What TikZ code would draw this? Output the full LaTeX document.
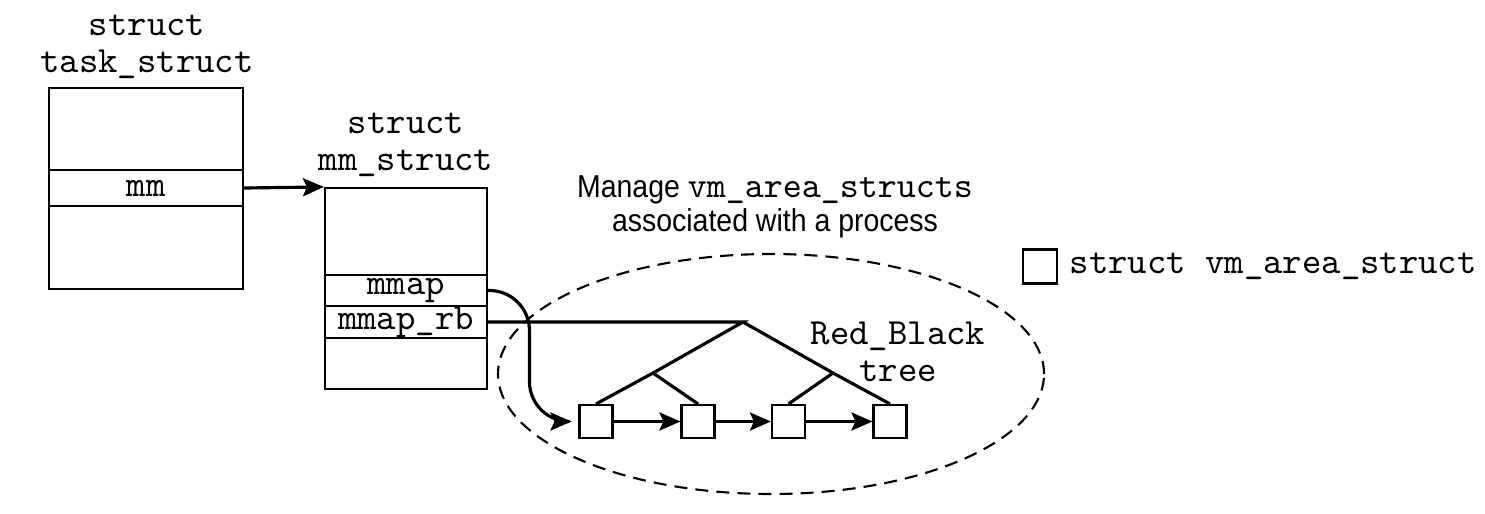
\documentclass[tikz,border=0pt]{standalone}
\usepackage{fontspec}
\usetikzlibrary{arrows.meta,positioning}
\newfontfamily\labelfont[FakeStretch=0.9]{Liberation Sans}
\newcommand{\codefont}{\ttfamily\fontsize{10.5}{10.5}\selectfont}
\newcommand{\code}[1]{{\codefont #1}}

\tikzset{
  field/.style={draw, line width=0.6pt, inner sep=0pt, font=\codefont},
  vmbox/.style={draw, line width=0.6pt, minimum size=0.33cm, inner sep=0pt},
  structname/.style={align=center, inner sep=0pt, font=\codefont},
  wire/.style={line width=0.9pt},
}

\begin{document}
\begin{tikzpicture}[>={Stealth[length=0.21cm,width=0.18cm,inset=0.04cm]}]
\useasboundingbox (0,0) rectangle (14.85,5.13);
% struct task_struct
\node[structname] (tasktitle) at (1.47,4.66) {struct\\task\_struct};
\node[field, minimum width=1.94cm, minimum height=2.01cm] (task) at (1.46,3.245) {};
\node[field, minimum width=1.94cm, minimum height=0.36cm] (mm) at (1.46,3.25) {mm};

% struct mm_struct
\node[structname] (mmtitle) at (4.06,3.68) {struct\\mm\_struct};
\node[field, minimum width=1.62cm, minimum height=2.01cm] (mmstruct) at (4.06,2.245) {};
\node[field, minimum width=1.62cm, minimum height=0.31cm] (mmap) at (4.06,2.225) {mmap};
\node[field, minimum width=1.62cm, minimum height=0.32cm] (mmaprb) at (4.06,1.91) {mmap\_rb};

% pointer mm -> mm_struct
\draw[wire,->] (mm.east) -- (mmstruct.north west);

% the vm_area_structs, in a list
\foreach \i/\x in {1/5.96,2/6.98,3/7.885,4/8.90}
  \node[vmbox] (vm\i) at (\x,0.915) {};
\foreach \i/\j in {1/2,2/3,3/4}
  \draw[wire,->] (vm\i) -- (vm\j);

% ... and in a red-black tree
\coordinate (root) at (7.43,1.91);
\coordinate (lbranch) at (6.53,1.40);
\coordinate (rbranch) at (8.33,1.40);
\draw[wire] (mmaprb.east) -- (root) -- (lbranch) -- (vm1.north);
\draw[wire] (lbranch) -- (vm2.north);
\draw[wire] (root) -- (rbranch) -- (vm4.north);
\draw[wire] (rbranch) -- (vm3.north);
\node[structname] (rbtitle) at (8.98,1.615) {Red\_Black\\tree};

% mmap points at the head of the list
\draw[wire,->,rounded corners=0.4cm] (mmap.east) -| ([xshift=-0.49cm]vm1.west) -- ([xshift=-0.07cm]vm1.west);

% dashed region round the tree
\draw[line width=0.6pt, dash pattern=on 3.7pt off 2.3pt] (7.71,1.39) ellipse [x radius=2.73, y radius=1.2];
\node[align=center, inner sep=0pt, font=\labelfont\fontsize{9}{9.6}\selectfont] (manage) at (7.75,3.06) {Manage {\ttfamily\fontsize{10.3}{9.6}\selectfont vm\_area\_structs}\\associated with a process};

% legend
\node[vmbox, minimum size=0.34cm] (legendbox) at (10.40,2.465) {};
\node[structname, right=0.11cm of legendbox] (legendtext) {struct vm\_area\_struct};
\end{tikzpicture}
\end{document}
